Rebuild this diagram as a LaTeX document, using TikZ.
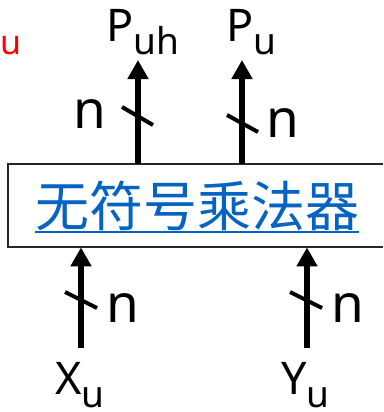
\documentclass[tikz,border=0pt]{standalone}
\usepackage{fontspec}
\setmainfont{Noto Sans}
\newfontfamily\cjk{Noto Sans CJK SC}
\usetikzlibrary{arrows.meta}
\definecolor{linkblue}{RGB}{5,99,193}
\tikzset{
  bus/.style={line width=6pt,-{Triangle[width=20pt,length=19pt]}},
  slash/.style={line width=4pt},
  lbl/.style={inner sep=0pt,anchor=base west,font=\fontsize{45}{45}\selectfont},
  nlbl/.style={inner sep=0pt,anchor=base west,font=\fontsize{53}{53}\selectfont},
  frame/.style={draw=black!85,line width=2pt},
}
\newcommand{\sbs}[1]{\raisebox{-13pt}{\fontsize{37}{37}\selectfont #1}}
\begin{document}
\begin{tikzpicture}[x=1pt,y=-1pt]
\useasboundingbox (0,0) rectangle (383,412);
% multiplier box (open on the right, where it runs to the picture edge)
\node[minimum width=375pt,minimum height=83pt,inner sep=0pt,anchor=north west] (box) at (8,164) {};
\draw[frame] (box.north east) -- (box.north west) -- (box.south west) -- (box.south east);
\node[inner sep=0pt,anchor=base,text=linkblue,font=\cjk\fontsize{54}{54}\selectfont] (title) at (197,226) {无符号乘法器};
\draw[linkblue,line width=2.2pt] ([yshift=-1.5pt]title.south west) -- ([yshift=-1.5pt]title.south east);
% red fragment
\node[inner sep=0pt,anchor=base west,text=red,font=\fontsize{34}{34}\selectfont] (red) at (0,55) {u};
% outputs
\coordinate (tuh) at (138,60);
\coordinate (tu) at (242,60);
\draw[bus] (box.north -| tuh) -- (tuh);
\draw[bus] (box.north -| tu) -- (tu);
\node[lbl] (puh) at (106,42) {P\sbs{uh}};
\node[lbl] (pu) at (226,42) {P\sbs{u}};
\draw[slash] (122,107) -- (153,125);
\draw[slash] (227,115) -- (258,132);
\node[nlbl] (n1) at (73,128) {n};
\node[nlbl] (n2) at (266,137) {n};
% inputs
\coordinate (sx) at (81,348);
\coordinate (sy) at (307,348);
\draw[bus] (sx) -- (sx |- box.south);
\draw[bus] (sy) -- (sy |- box.south);
\draw[slash] (65,292) -- (97,308);
\draw[slash] (290,292) -- (322,308);
\node[nlbl] (n3) at (106,322) {n};
\node[nlbl] (n4) at (331,322) {n};
\node[lbl] (xu) at (55,394) {X\sbs{u}};
\node[lbl] (yu) at (281,394) {Y\sbs{u}};
\end{tikzpicture}
\end{document}
